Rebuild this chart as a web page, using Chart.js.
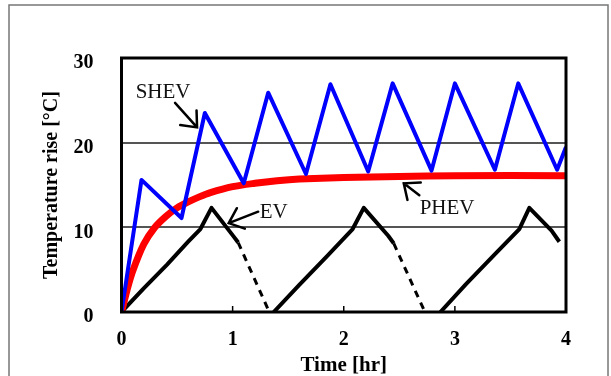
<!DOCTYPE html>
<html>
<head>
<meta charset="utf-8">
<script src="https://cdn.jsdelivr.net/npm/chart.js@4.4.1/dist/chart.umd.min.js"></script>
<style>
  body { margin: 0; background: #fff; }
  canvas { display: block; }
</style>
</head>
<body>
<canvas id="tempChart" width="611" height="376"></canvas>
<script>
// Tick labels
const timeTicks = [0, 1, 2, 3, 4];
const tempTicks = [0, 10, 20, 30];

// SHEV (blue saw-tooth)
const shevTime = [0, 0.18, 0.54, 0.75, 1.10, 1.32, 1.66, 1.88, 2.22, 2.44, 2.79, 3.00, 3.36, 3.57, 3.92, 4.0];
const shevTemp = [0, 15.6, 11.1, 23.5, 15.2, 25.9, 16.3, 26.9, 16.6, 27.0, 16.7, 27.0, 16.8, 27.0, 16.8, 19.5];

// PHEV (red, rises then levels off)
const phevTime = [0, 0.05, 0.1, 0.2, 0.3, 0.4, 0.5, 0.6, 0.7, 0.8, 1.0, 1.2, 1.4, 1.6, 2.0, 2.5, 3.0, 4.0];
const phevTemp = [0, 2.6, 4.8, 8.0, 10.0, 11.3, 12.3, 13.0, 13.6, 14.1, 14.8, 15.2, 15.5, 15.7, 15.9, 16.0, 16.1, 16.1];

// EV (black, solid parts; null = break)
const evTime = [0, 0.2, 0.41, 0.6, 0.71, 0.81, 1.01, 1.05, 1.2,
                1.37, 1.6, 1.85, 2.08, 2.18, 2.40, 2.45, 2.6,
                2.87, 3.1, 3.35, 3.58, 3.67, 3.87, 3.94];
const evTemp = [0, 2.8, 5.6, 8.3, 9.8, 12.3, 8.9, 8.2, null,
                0, 3.2, 6.6, 9.8, 12.3, 9.0, 8.1, null,
                0, 3.3, 6.7, 9.8, 12.3, 9.6, 8.3];

// EV cooling (dashed parts)
const evDashTime = [1.05, 1.33, 1.4, 2.45, 2.73];
const evDashTemp = [8.2, 0, null, 8.1, 0];

const serif = "'Liberation Serif', 'Times New Roman', serif";

function toPoints(xs, ys) {
    return xs.map((x, i) => ({ x: x, y: ys[i] }));
}

// labels with arrows, placed in data units
const callouts = [
    { text: 'SHEV', tx: 0.374, ty: 25.97, from: [0.482, 24.7], to: [0.68, 21.8] },
    { text: 'EV', tx: 1.37, ty: 11.7, from: [1.23, 11.85], to: [0.965, 10.5] },
    { text: 'PHEV', tx: 2.93, ty: 12.25, from: [2.68, 13.8], to: [2.54, 15.2] }
];

const framePlugin = {
    id: 'frame',
    beforeDraw(chart) {
        const c = chart.ctx;
        c.save();
        c.strokeStyle = '#777';
        c.lineWidth = 1.5;
        c.strokeRect(9, 5, 599, 400);
        c.restore();
    },
    afterDatasetsDraw(chart) {
        const c = chart.ctx;
        const a = chart.chartArea;
        const xs = chart.scales.x;
        const ys = chart.scales.y;
        c.save();

        // inward ticks on the time axis
        c.strokeStyle = '#000';
        c.lineWidth = 1.5;
        timeTicks.slice(1, -1).forEach(t => {
            const px = xs.getPixelForValue(t);
            c.beginPath();
            c.moveTo(px, a.bottom);
            c.lineTo(px, a.bottom - 6);
            c.stroke();
        });

        // plot box
        c.lineWidth = 3;
        c.strokeRect(a.left, a.top, a.right - a.left, a.bottom - a.top);

        // callouts
        c.font = '21px ' + serif;
        c.fillStyle = '#111';
        c.textAlign = 'center';
        c.textBaseline = 'middle';
        c.lineWidth = 2.5;
        c.lineCap = 'round';
        callouts.forEach(o => {
            c.fillText(o.text, xs.getPixelForValue(o.tx), ys.getPixelForValue(o.ty));
            const x1 = xs.getPixelForValue(o.from[0]), y1 = ys.getPixelForValue(o.from[1]);
            const x2 = xs.getPixelForValue(o.to[0]), y2 = ys.getPixelForValue(o.to[1]);
            const ang = Math.atan2(y1 - y2, x1 - x2);
            const len = 17, spread = 0.7;
            c.beginPath();
            c.moveTo(x1, y1);
            c.lineTo(x2, y2);
            c.moveTo(x2 + len * Math.cos(ang - spread), y2 + len * Math.sin(ang - spread));
            c.lineTo(x2, y2);
            c.lineTo(x2 + len * Math.cos(ang + spread), y2 + len * Math.sin(ang + spread));
            c.stroke();
        });
        c.restore();
    }
};

new Chart(document.getElementById('tempChart'), {
    type: 'line',
    data: {
        datasets: [
            {
                label: 'PHEV',
                data: toPoints(phevTime, phevTemp),
                borderColor: '#ff0000',
                borderWidth: 7,
                tension: 0.3,
                order: 2
            },
            {
                label: 'SHEV',
                data: toPoints(shevTime, shevTemp),
                borderColor: '#0000ff',
                borderWidth: 4,
                order: 1
            },
            {
                label: 'EV',
                data: toPoints(evTime, evTemp),
                borderColor: '#000',
                borderWidth: 4,
                spanGaps: false,
                order: 3
            },
            {
                label: 'EV (cooling)',
                data: toPoints(evDashTime, evDashTemp),
                borderColor: '#000',
                borderWidth: 3,
                borderDash: [7, 6],
                spanGaps: false,
                order: 3
            }
        ]
    },
    options: {
        responsive: false,
        animation: false,
        elements: { point: { radius: 0 }, line: { borderJoinStyle: 'round', borderCapStyle: 'butt' } },
        layout: { padding: { left: 40, top: 58, right: 45, bottom: 0 } },
        plugins: { legend: { display: false }, tooltip: { enabled: false } },
        scales: {
            x: {
                type: 'linear',
                min: 0,
                max: 4,
                afterFit: s => { s.height = 64; },
                afterBuildTicks: s => { s.ticks = timeTicks.map(v => ({ value: v })); },
                ticks: { color: '#000', padding: 8, font: { family: serif, size: 20, weight: 'bold' } },
                grid: { display: false },
                border: { display: false },
                title: {
                    display: true,
                    text: 'Time [hr]',
                    color: '#000',
                    padding: 0,
                    font: { family: serif, size: 21, weight: 'bold', lineHeight: 1.0 }
                }
            },
            y: {
                min: 0,
                max: 30,
                afterFit: s => { s.width = 81.5; },
                afterBuildTicks: s => { s.ticks = tempTicks.map(v => ({ value: v })); },
                ticks: { color: '#000', padding: 28, labelOffset: 5, font: { family: serif, size: 20, weight: 'bold' } },
                grid: {
                    drawTicks: false,
                    lineWidth: 2,
                    color: ctx => (ctx.tick && (ctx.tick.value === 10 || ctx.tick.value === 20)) ? '#555' : 'rgba(0,0,0,0)'
                },
                border: { display: false },
                title: {
                    display: true,
                    text: 'Temperature rise [°C]',
                    color: '#000',
                    padding: 0,
                    font: { family: serif, size: 20, weight: 'bold', lineHeight: 1.2 }
                }
            }
        }
    },
    plugins: [framePlugin]
});
</script>
</body>
</html>
